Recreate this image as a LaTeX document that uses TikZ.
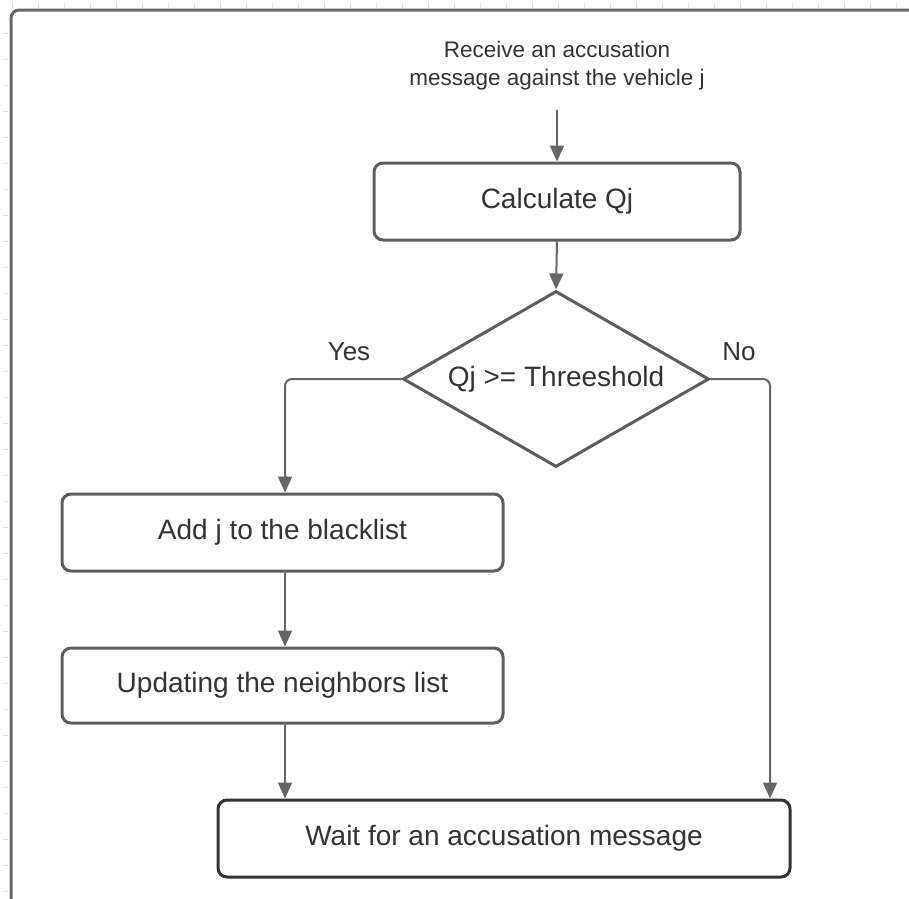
\documentclass[tikz,border=0pt]{standalone}
\usepackage{fontspec}
\setmainfont{Liberation Sans}
\usetikzlibrary{shapes.geometric,arrows.meta}
\definecolor{edgegray}{HTML}{5E5E5E}
\definecolor{linegray}{HTML}{666666}
\definecolor{txtgray}{HTML}{333333}
\definecolor{darkedge}{HTML}{333333}
\definecolor{tickgray}{HTML}{DDDDDD}
\tikzset{
  every node/.style={text=txtgray},
  procbox/.style={draw=edgegray, line width=3pt, rounded corners=9pt, fill=white,
    minimum height=77pt, inner sep=0pt, font=\fontsize{28}{34}\selectfont},
  decision/.style={draw=edgegray, line width=3pt, shape=diamond, aspect=1.74,
    minimum width=306pt, minimum height=176pt, inner sep=0pt, fill=white,
    font=\fontsize{28}{34}\selectfont},
  flow/.style={draw=linegray, line width=2pt, rounded corners=7pt,
    -{Triangle[length=16pt,width=14pt]}},
  branchlabel/.style={font=\fontsize{26}{30}\selectfont, inner sep=0pt},
}
\begin{document}
\begin{tikzpicture}[x=1pt,y=-1pt]
  \useasboundingbox (0,0) rectangle (909,898);
  \clip (0,0) rectangle (909,898);
  \fill[white] (0,0) rectangle (909,898);

  % ruler ticks along the top and left margins
  \foreach \t in {0,...,34} {
    \draw[tickgray, line width=1pt] (12+26*\t,3) -- (12+26*\t,8);
  }
  \foreach \t in {0,...,33} {
    \draw[tickgray, line width=1pt] (3,33+26*\t) -- (8,33+26*\t);
  }

  % outer page frame, running past the right and bottom edges
  \draw[linegray, line width=3pt, rounded corners=8pt] (11,10) rectangle (930,906);

  % start text and nodes
  \node[font=\fontsize{22.5}{28}\selectfont, align=center, inner sep=0pt] (start) at (557,66)
    {Receive an accusation\\message against the vehicle j};
  \coordinate (startfoot) at (557,110);

  \node[procbox, minimum width=366pt] (calc) at (557,201.5) {Calculate Qj};
  \node[decision] (dia) at (556,379) {Qj >= Threeshold};
  \node[procbox, minimum width=441pt] (add) at (282.5,532.5) {Add j to the blacklist};
  \node[procbox, minimum width=441pt, minimum height=75pt] (upd) at (282.5,685.5) {Updating the neighbors list};
  \node[procbox, draw=darkedge, minimum width=572pt] (wait) at (504,838.5) {Wait for an accusation message};

  % branch columns
  \coordinate (yescol) at (285,0);
  \coordinate (nocol) at (770,0);

  % connectors
  \draw[flow] (startfoot) -- (calc.north);
  \draw[flow] (calc.south) -- (dia.north);
  \draw[flow] (dia.west) -| (add.north -| yescol);
  \draw[flow] (add.south -| yescol) -- (upd.north -| yescol);
  \draw[flow] (upd.south -| yescol) -- (wait.north -| yescol);
  \draw[flow] (dia.east) -| (wait.north -| nocol);

  % branch labels
  \node[branchlabel] (yes) at (349,352) {Yes};
  \node[branchlabel] (no) at (739,352) {No};
\end{tikzpicture}
\end{document}
